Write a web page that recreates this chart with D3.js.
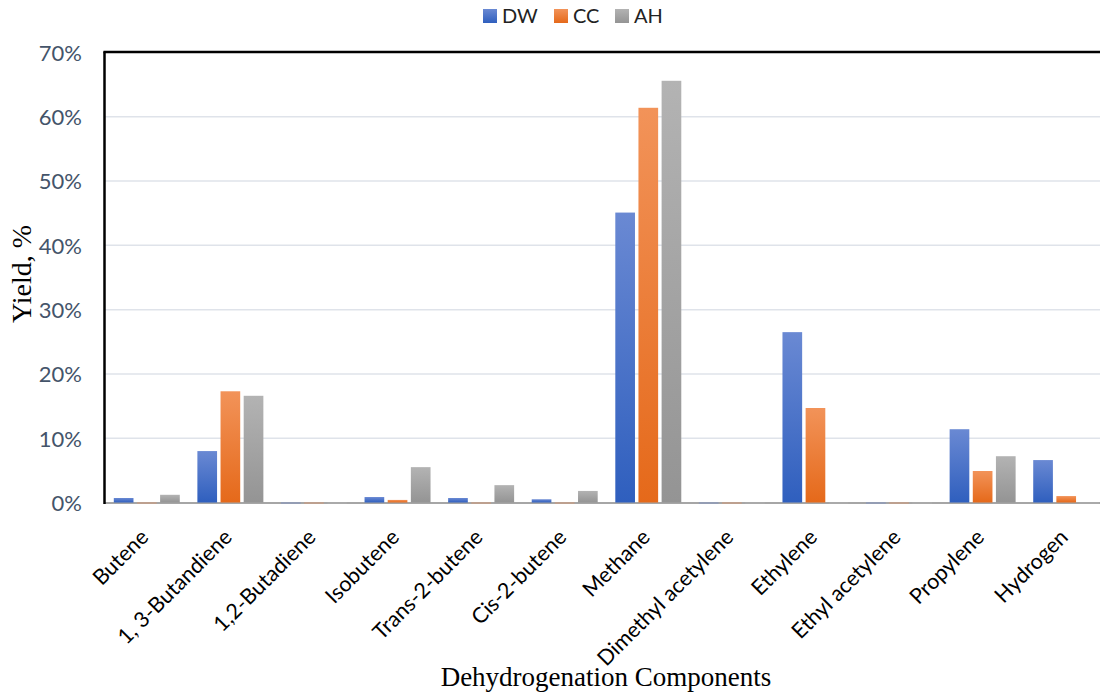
<!DOCTYPE html>
<html><head><meta charset="utf-8">
<script src="https://cdn.jsdelivr.net/npm/d3@7"></script>
<style>body{margin:0;background:#fff}svg{display:block}</style>
</head><body><svg id="c" width="1100" height="695"></svg>
<script>
const categories = ["Butene","1, 3-Butandiene","1,2-Butadiene","Isobutene","Trans-2-butene","Cis-2-butene","Methane","Dimethyl acetylene","Ethylene","Ethyl acetylene","Propylene","Hydrogen"];
const seriesNames = ["DW","CC","AH"];
const DW = [0.7, 8.0, 0, 0.85, 0.7, 0.5, 45.1, 0, 26.5, 0, 11.4, 6.6];
const CC = [0, 17.3, 0, 0.4, 0, 0, 61.4, 0, 14.7, 0, 4.9, 1.0];
const AH = [1.2, 16.6, 0, 5.5, 2.7, 1.8, 65.6, 0, 0, 0, 7.2, 0];
const yTicks = [0,10,20,30,40,50,60,70];
const colors = {DW:["#6a89d3","#2f5fbe"], CC:["#f29359","#e5691a"], AH:["#b3b3b3","#949494"]};

const svg = d3.select("#c");
const pLeft = 105, pRight = 1108, pTop = 52.5, pBottom = 502.5;
const x = d3.scaleBand().domain(categories).range([pLeft, pRight]).padding(0);
const xi = d3.scaleBand().domain(seriesNames).range([8.8, x.bandwidth()-8.8]).paddingInner(0.15);
const y = d3.scaleLinear().domain([0,70]).range([pBottom, pTop]);
const data = {DW, CC, AH};

const defs = svg.append("defs");
seriesNames.forEach(s=>{
  const g = defs.append("linearGradient").attr("id","g"+s).attr("x1",0).attr("y1",0).attr("x2",0).attr("y2",1);
  g.append("stop").attr("offset","0%").attr("stop-color",colors[s][0]);
  g.append("stop").attr("offset","100%").attr("stop-color",colors[s][1]);
});

// gridlines
svg.append("g").selectAll("line").data(yTicks.filter(t=>t>0 && t<70)).join("line")
  .attr("x1",pLeft).attr("x2",1100).attr("y1",d=>y(d)).attr("y2",d=>y(d))
  .attr("stroke","#dfe3ea").attr("stroke-width",1.5);

// y axis labels
const yAxis = d3.axisLeft(y).tickValues(yTicks).tickFormat(d=>d+"%").tickSize(0).tickPadding(0);
const ya = svg.append("g").attr("transform",`translate(82,0)`).call(yAxis);
ya.select(".domain").remove();
ya.selectAll("text").attr("fill","#44546a").style("font-family","Lato, 'Open Sans', sans-serif").style("font-size","22px").attr("dy","0.36em");

// baseline
svg.append("line").attr("x1",pLeft).attr("x2",1100).attr("y1",pBottom+0.5).attr("y2",pBottom+0.5).attr("stroke","#a6a6a6").attr("stroke-width",2);

// bars
seriesNames.forEach(s=>{
  const g = svg.append("g");
  g.selectAll("rect.bar").data(data[s]).join("rect").attr("class","bar")
    .attr("x",(d,i)=>x(categories[i])+xi(s)).attr("width",xi.bandwidth())
    .attr("y",d=>y(d)).attr("height",d=>pBottom-y(d))
    .attr("fill",`url(#g${s})`);
  g.selectAll("rect.stub").data(data[s].map((d,i)=>({d,i})).filter(o=>o.d===0)).join("rect").attr("class","stub")
    .attr("x",o=>x(categories[o.i])+xi(s)).attr("width",xi.bandwidth())
    .attr("y",pBottom-0.5).attr("height",2)
    .attr("fill",colors[s][0]).attr("opacity",0.3);
});

// frame: left & top
svg.append("line").attr("x1",pLeft-0.5).attr("x2",pLeft-0.5).attr("y1",pTop-1).attr("y2",pBottom+1.5).attr("stroke","#000").attr("stroke-width",2.5);
svg.append("line").attr("x1",pLeft-1.5).attr("x2",1100).attr("y1",pTop-0.5).attr("y2",pTop-0.5).attr("stroke","#000").attr("stroke-width",2.5);

// x labels
const xa = svg.append("g").attr("transform",`translate(0,${pBottom})`).call(d3.axisBottom(x).tickSize(0).tickPadding(0));
xa.select(".domain").remove();
xa.selectAll("text").attr("text-anchor","end").attr("fill","#000")
  .style("font-family","Lato, 'Open Sans', sans-serif").style("font-size","21.5px")
  .attr("dy",0).attr("y",0)
  .attr("transform","translate(3,36) rotate(-45)");

// axis titles
svg.append("text").attr("x",606).attr("y",686).attr("text-anchor","middle")
  .style("font-family","'Liberation Serif', 'Times New Roman', serif").style("font-size","27px").attr("fill","#000")
  .text("Dehydrogenation Components");
svg.append("text").attr("transform","translate(31,274) rotate(-90)").attr("text-anchor","middle")
  .style("font-family","'Liberation Serif', 'Times New Roman', serif").style("font-size","28px").attr("fill","#000")
  .text("Yield, %");

// legend
const legX = [483, 554, 615];
const lg = svg.append("g");
seriesNames.forEach((s,i)=>{
  lg.append("rect").attr("x",legX[i]).attr("y",9).attr("width",14).attr("height",14).attr("fill",`url(#g${s})`);
  lg.append("text").attr("x",legX[i]+19).attr("y",16).attr("dy","0.36em")
    .style("font-family","Lato, 'Open Sans', sans-serif").style("font-size","20px").attr("fill","#222").text(s);
});
</script></body></html>
